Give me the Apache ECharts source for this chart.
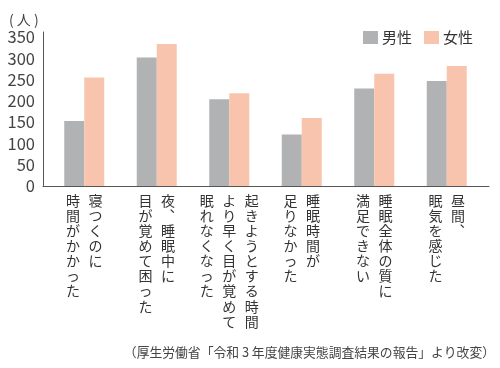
<!DOCTYPE html>
<html><head><meta charset="utf-8">
<script src="https://cdn.jsdelivr.net/npm/echarts@6/dist/echarts.min.js"></script>
<style>html,body{margin:0;padding:0;background:#fff}#c{width:500px;height:368px}</style>
</head><body><div id="c"></div>
<script>
const categories = ['寝つくのに時間がかかった','夜、睡眠中に目が覚めて困った','起きようとする時間より早く目が覚めて眠れなくなった','睡眠時間が足りなかった','睡眠全体の質に満足できない','昼間、眠気を感じた'];
const labelColumns = [
  ['寝つくのに','時間がかかった'],
  ['夜、睡眠中に','目が覚めて困った'],
  ['起きようとする時間','より早く目が覚めて','眠れなくなった'],
  ['睡眠時間が','足りなかった'],
  ['睡眠全体の質に','満足できない'],
  ['昼間、','眠気を感じた']
];
const male = [153, 302, 204, 121, 229, 247];
const female = [255, 334, 218, 160, 264, 282];
const yTicks = [0, 50, 100, 150, 200, 250, 300, 350];
const unitLabel = '( 人 )';
const sourceText = '（厚生労働省「令和 3 年度健康実態調査結果の報告」より改変）';

const FONT = '"Noto Sans CJK JP", "Noto Sans", sans-serif';
const chart = echarts.init(document.getElementById('c'), null, {renderer: 'canvas'});

function verticalLabel(value) {
  const cols = labelColumns[categories.indexOf(value)].slice().reverse();
  const rows = Math.max(...cols.map(c => c.length));
  const out = [];
  for (let i = 0; i < rows; i++) {
    let line = '';
    for (const col of cols) {
      let ch = Array.from(col)[i] || '\u3000';
      if (ch === '、') ch = '\uFE11';
      line += '{c|' + ch + '}';
    }
    out.push(line);
  }
  return out.join('\n');
}

chart.setOption({
  animation: false,
  textStyle: {fontFamily: FONT},
  title: [
    {text: unitLabel, left: 4, top: 8, textStyle: {fontSize: 14, fontWeight: 'normal', color: '#444', fontFamily: FONT}},
    {text: sourceText, right: 0, top: 341, textStyle: {fontSize: 12.8, fontWeight: 'normal', color: '#444', fontFamily: FONT}}
  ],
  legend: {
    data: ['男性', '女性'],
    left: 358, top: 25,
    itemWidth: 15, itemHeight: 13, itemGap: 12,
    icon: 'rect',
    textStyle: {fontSize: 15, color: '#333', fontFamily: FONT, padding: [0, 0, 0, -1]}
  },
  grid: [
    {left: 48, right: 17, top: 32, bottom: 182},
    {left: 43, right: 11, top: 32, bottom: 182}
  ],
  xAxis: [
    {
      type: 'category', data: categories, gridIndex: 0,
      axisLine: {show: false}, axisTick: {show: false},
      axisLabel: {
        interval: 0, margin: 7, formatter: verticalLabel, verticalAlign: 'top',
        rich: {c: {width: 22.5, align: 'center', fontSize: 14, lineHeight: 15.1, color: '#333', fontFamily: FONT}}
      }
    },
    {
      type: 'value', gridIndex: 1, min: 0, max: 1,
      axisLine: {show: true, lineStyle: {color: '#555', width: 1}},
      axisTick: {show: false}, axisLabel: {show: false}, splitLine: {show: false}
    }
  ],
  yAxis: [
    {
      type: 'value', gridIndex: 0, min: 0, max: 362, interval: 50, offset: 5,
      axisLine: {show: true, lineStyle: {color: '#555', width: 1}},
      axisTick: {show: false}, splitLine: {show: false},
      axisLabel: {showMaxLabel: false, margin: 8, fontSize: 16.5, color: '#444', fontFamily: FONT,
        formatter: v => (yTicks.includes(v) ? String(v) : '')}
    },
    {type: 'value', gridIndex: 1, show: false}
  ],
  series: [
    {name: '男性', type: 'bar', data: male, barWidth: 20, barGap: '0%', itemStyle: {color: '#b1b2b4'}, xAxisIndex: 0, yAxisIndex: 0},
    {name: '女性', type: 'bar', data: female, barWidth: 20, barGap: '0%', itemStyle: {color: '#f8c4ae'}, xAxisIndex: 0, yAxisIndex: 0}
  ]
});
</script></body></html>
